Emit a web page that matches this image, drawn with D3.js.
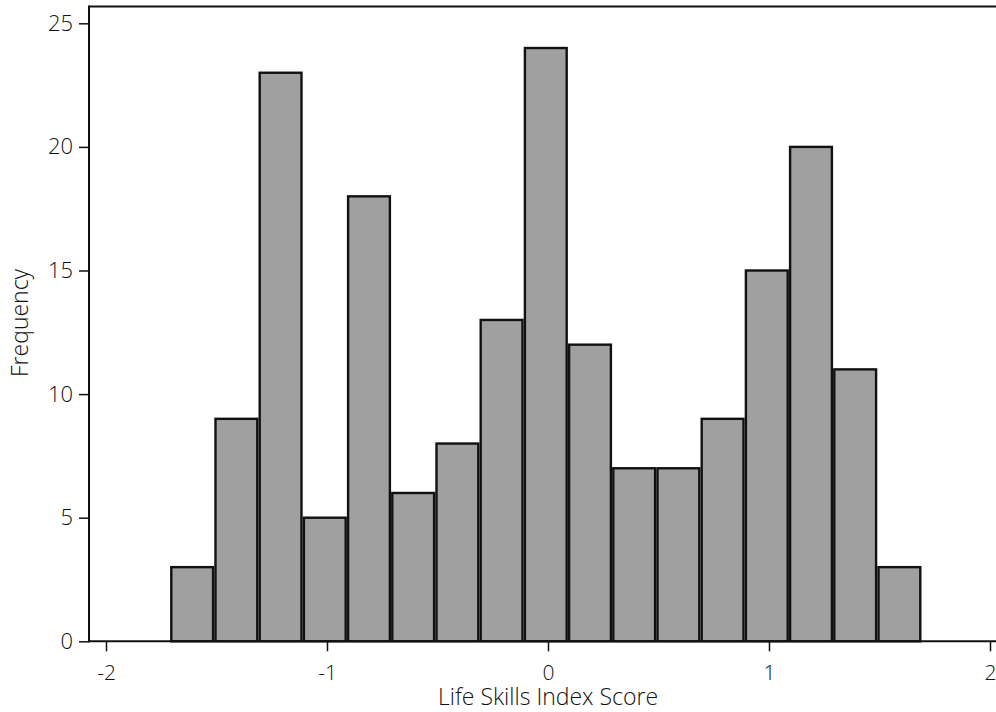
<!DOCTYPE html>
<html>
<head>
<meta charset="utf-8">
<script src="https://cdn.jsdelivr.net/npm/d3@7"></script>
<style>
  html, body { margin: 0; padding: 0; background: #fff; }
  svg { display: block; }
  text { font-family: "Open Sans", "Noto Sans", sans-serif; font-weight: 300; fill: #111; }
</style>
</head>
<body>
<svg id="chart" width="996" height="712"></svg>
<script>
// Histogram bins: start of first bin, bin width, and counts per bin
const binStart = -1.71;
const binWidth = 0.2;
const counts = [3, 9, 23, 5, 18, 6, 8, 13, 24, 12, 7, 7, 9, 15, 20, 11, 3];
const xTicks = [-2, -1, 0, 1, 2];
const yTicks = [0, 5, 10, 15, 20, 25];
const xTitle = "Life Skills Index Score";
const yTitle = "Frequency";

const svg = d3.select("#chart");
const W = 996;
const plotLeft = 89, plotTop = 6.5, plotBottom = 641.3;
const fontFamily = "'Open Sans', 'Noto Sans', sans-serif";

const x = d3.scaleLinear().domain([-2, 2]).range([106, 990]);
const y = d3.scaleLinear().domain([0, 25]).range([plotBottom, 23.3]);

const bins = counts.map((c, i) => ({
  x0: binStart + i * binWidth,
  x1: binStart + (i + 1) * binWidth,
  n: c
}));

// bars
svg.append("g").selectAll("rect")
  .data(bins)
  .enter().append("rect")
  .attr("x", d => x(d.x0) + 1.2)
  .attr("width", d => x(d.x1) - x(d.x0) - 2.4)
  .attr("y", d => y(d.n))
  .attr("height", d => y(0) - y(d.n))
  .attr("fill", "#a0a0a0")
  .attr("stroke", "#111")
  .attr("stroke-width", 2.4);

// frame: top and left borders, baseline
svg.append("line")
  .attr("x1", plotLeft).attr("x2", W).attr("y1", plotTop).attr("y2", plotTop)
  .attr("stroke", "#111").attr("stroke-width", 2);
svg.append("line")
  .attr("x1", plotLeft).attr("x2", plotLeft).attr("y1", plotTop - 1).attr("y2", plotBottom + 1)
  .attr("stroke", "#111").attr("stroke-width", 2);
svg.append("line")
  .attr("x1", plotLeft - 1).attr("x2", W).attr("y1", plotBottom).attr("y2", plotBottom)
  .attr("stroke", "#111").attr("stroke-width", 2);

// plain hyphen for negatives
const fmt = d => String(d);

// x axis
const xAxis = d3.axisBottom(x).tickValues(xTicks).tickSize(10).tickPadding(14).tickFormat(fmt);
const gx = svg.append("g").attr("transform", `translate(0,${plotBottom})`).call(xAxis);
gx.select(".domain").remove();
gx.selectAll(".tick line").attr("stroke", "#111").attr("stroke-width", 1.5);
gx.selectAll(".tick text").attr("font-size", 21).style("fill", "#111")
  .attr("font-family", fontFamily).attr("font-weight", 300);

// y axis
const yAxis = d3.axisLeft(y).tickValues(yTicks).tickSize(10).tickPadding(6).tickFormat(fmt);
const gy = svg.append("g").attr("transform", `translate(${plotLeft},0)`).call(yAxis);
gy.select(".domain").remove();
gy.selectAll(".tick line").attr("stroke", "#111").attr("stroke-width", 1.5);
gy.selectAll(".tick text").attr("font-size", 22).style("fill", "#111")
  .attr("font-family", fontFamily).attr("font-weight", 300);

// axis titles
svg.append("text")
  .attr("x", x(0)).attr("y", 704.5)
  .attr("text-anchor", "middle").attr("font-size", 23)
  .text(xTitle);
svg.append("text")
  .attr("transform", `translate(28,${(plotTop + plotBottom) / 2 - 1}) rotate(-90)`)
  .attr("text-anchor", "middle").attr("font-size", 23)
  .text(yTitle);
</script>
</body>
</html>
